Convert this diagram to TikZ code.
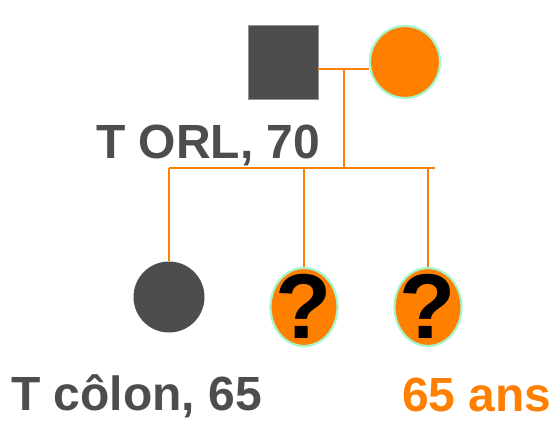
\documentclass[tikz,border=0pt]{standalone}
\usepackage{fontspec}
\setmainfont{Liberation Sans}
\usetikzlibrary{shapes.geometric}
\definecolor{ink}{HTML}{4D4D4D}
\definecolor{tangerine}{HTML}{FF8000}
\definecolor{mint}{HTML}{A8F5CC}
\tikzset{
  male/.style={rectangle, draw=ink!60, line width=0.8pt, fill=ink, minimum width=70pt, minimum height=74pt, inner sep=0pt},
  affected/.style={circle, fill=ink, minimum size=71pt, inner sep=0pt},
  carrier/.style={ellipse, draw=mint, line width=2.2pt, fill=tangerine, inner sep=0pt},
  link/.style={draw=tangerine, line width=2.2pt},
  caption/.style={font=\bfseries\fontsize{48}{52}\selectfont, inner sep=0pt, anchor=base west},
  query/.style={font=\bfseries\fontsize{92}{96}\selectfont}
}
\begin{document}
\begin{tikzpicture}[x=1pt, y=-1pt]
  \useasboundingbox (0,0) rectangle (555,421);
  % parents
  \node[male] (father) at (283,62) {};
  \node[carrier, minimum width=70pt, minimum height=72pt] (mother) at (405,62) {};
  % children
  \node[affected] (child1) at (169,297) {};
  \node[carrier, minimum width=67pt, minimum height=78pt] (child2) at (304,307) {};
  \node[carrier, minimum width=67pt, minimum height=78pt] (child3) at (428,307) {};
  \node[query] at ([yshift=1pt]child2) {?};
  \node[query] at ([yshift=1pt]child3) {?};
  % pedigree lines
  \coordinate (m) at (344,69);
  \coordinate (s) at (344,168);
  \coordinate (sr) at (435,168);
  \draw[link] (father.east |- m) -- (mother.west |- m);
  \draw[link] (m) -- (s);
  \draw[link] (child1 |- s) -- (sr);
  \draw[link] (child1 |- s) -- (child1.north);
  \draw[link] (child2 |- s) -- (child2.north);
  \draw[link] (child3 |- s) -- (child3.north);
  % captions
  \node[caption, text=ink] (lblfather) at (96,158) {T ORL, 70};
  \node[caption, text=ink] (lblchild1) at (11,410) {T côlon, 65};
  \node[caption, text=tangerine] (lblchild3) at (402,411) {65 ans};
\end{tikzpicture}
\end{document}
